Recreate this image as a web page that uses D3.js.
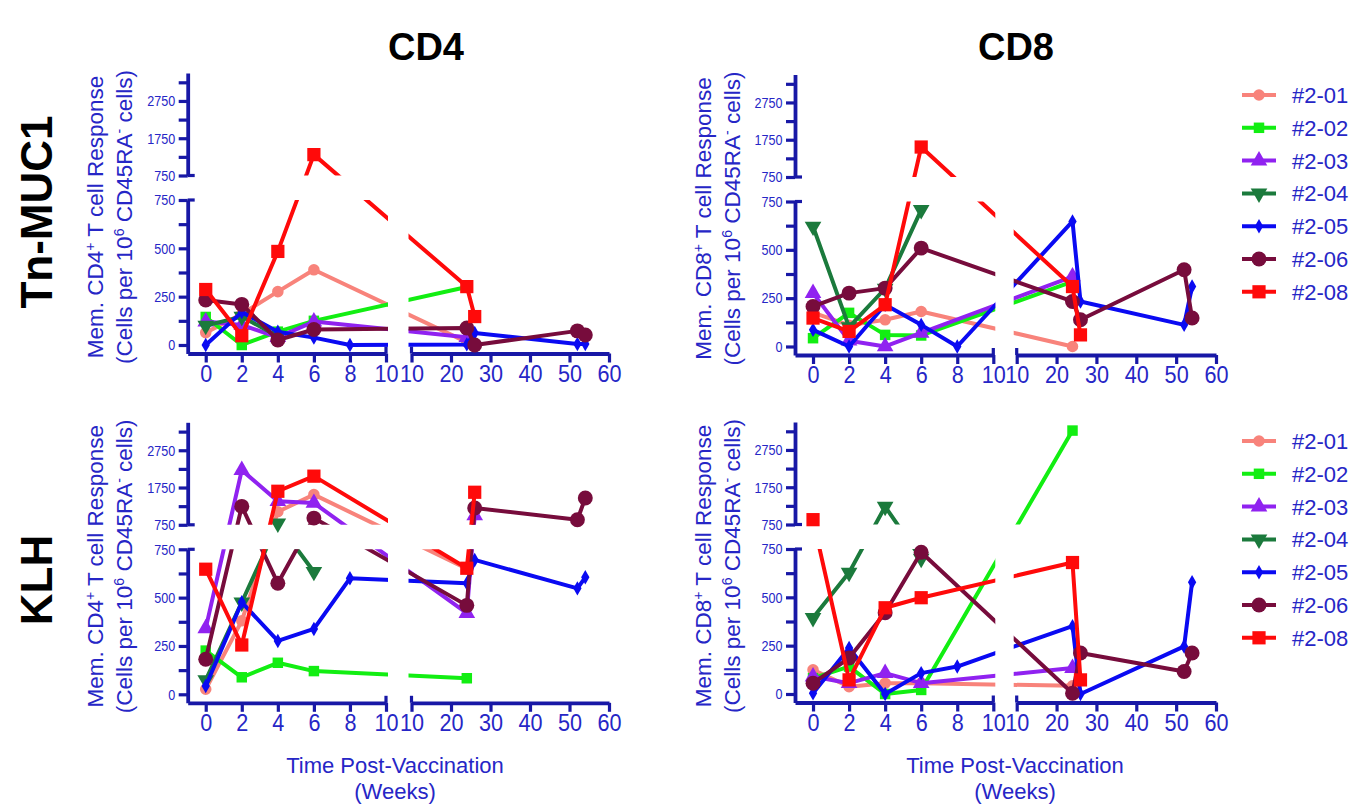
<!DOCTYPE html>
<html><head><meta charset="utf-8">
<script src="https://cdn.jsdelivr.net/npm/d3@7"></script>
<style>body{margin:0;background:#fff}svg{display:block}</style>
</head><body>
<svg id="c" width="1369" height="808"></svg>
<script>
// ---------- data ----------
const subjects = ["#2-01","#2-02","#2-03","#2-04","#2-05","#2-06","#2-08"];
const colors   = ["#f8837b","#12ee12","#9022f0","#1b7a3c","#0a0af2","#770c3c","#ff0a0a"];
const symbols  = ["circle","square","triangle","triangleDown","diamond","circle","square"];
const symSizes = [105,110,120,120,60,175,175];

const leftTicks  = [0,2,4,6,8,10];
const rightTicks = [10,20,30,40,50,60];
const lowTicks   = [0,250,500,750];
const lowMinor   = [125,375,625];
const highTicks  = [750,1750,2750];
const highMinor  = [1250,2250,3250];

// [week, cells] per subject, order as `subjects`
const tnCD4 = [
  [[0,64],[2,160],[4,276],[6,389],[24,15]],
  [[0,145],[2,0],[4,69],[6,125],[24,300]],
  [[0,121],[2,104],[4,40],[6,121],[24,40]],
  [[0,100],[2,147],[4,45]],
  [[0,0],[2,170],[4,69],[6,38],[8,0],[24,3],[26,62],[52,5],[54,5]],
  [[0,233],[2,210],[4,26],[6,80],[24,88],[26,0],[52,73],[54,52]],
  [[0,287],[2,48],[4,484],[6,1310],[24,302],[26,147]]
];
const tnCD8 = [
  [[0,175],[2,110],[4,138],[6,181],[24,0]],
  [[0,43],[2,174],[4,60],[6,57],[24,335]],
  [[0,276],[2,30],[4,0],[6,70],[24,362]],
  [[0,621],[2,100],[4,300],[6,707]],
  [[0,86],[2,0],[4,216],[6,112],[8,0],[24,647],[26,233],[52,112],[54,310]],
  [[0,207],[2,276],[4,302],[6,509],[24,233],[26,138],[52,397],[54,147]],
  [[0,147],[2,78],[4,216],[6,1554],[24,310],[26,60]]
];
const klhCD4 = [
  [[0,26],[2,380],[4,1100],[6,1560],[24,650]],
  [[0,226],[2,88],[4,163],[6,120],[24,83]],
  [[0,341],[2,2217],[4,1380],[6,1335],[24,420],[26,1000]],
  [[0,74],[2,476],[4,790],[6,634]],
  [[0,43],[2,476],[4,276],[6,338],[8,600],[24,574],[26,695],[52,548],[54,605]],
  [[0,181],[2,1245],[4,574],[6,930],[24,460],[26,1200],[52,885],[54,1470]],
  [[0,647],[2,255],[4,1650],[6,2055],[24,652],[26,1623]]
];
const klhCD8 = [
  [[0,125],[2,38],[4,56],[6,56],[24,42]],
  [[0,82],[2,142],[4,0],[6,21],[24,3270]],
  [[0,90],[2,56],[4,108],[6,56],[24,134]],
  [[0,394],[2,628],[4,1230],[6,700]],
  [[0,4],[2,238],[4,0],[6,108],[8,142],[24,351],[26,0],[52,246],[54,578]],
  [[0,56],[2,186],[4,420],[6,733],[24,4],[26,212],[52,116],[54,212]],
  [[0,880],[2,73],[4,446],[6,498],[24,680],[26,73]]
];

// ---------- style ----------
const AX = "#1818a6", TX = "#2626c6";
const FONT = "'Liberation Sans', Arial, sans-serif";
const LW = 4;
const svg = d3.select("#c");

const panels = [
  {data: tnCD4,  X0:187.7, Y0:345,   rs:223.8, re:421.3, cd:"4"},
  {data: tnCD8,  X0:795,   Y0:346.5, rs:221.7, re:421,   cd:"8"},
  {data: klhCD4, X0:187.7, Y0:694.3, rs:223.8, re:421.3, cd:"4"},
  {data: klhCD8, X0:795,   Y0:694,   rs:221.7, re:421,   cd:"8"}
];

function symPath(k, size){
  const t = symbols[k];
  if (t==="circle") return d3.symbol(d3.symbolCircle, size)();
  if (t==="square") return d3.symbol(d3.symbolSquare, size)();
  if (t==="diamond") return d3.symbol(d3.symbolDiamond, size)();
  return d3.symbol(d3.symbolTriangle, size)();
}
function symTransform(k, x, y){
  return `translate(${x},${y})` + (symbols[k]==="triangleDown" ? " rotate(180)" : "");
}

function styleAxis(g){
  g.selectAll("path.domain").attr("stroke", AX).attr("stroke-width", 3.8);
  g.selectAll(".tick line").attr("stroke", AX).attr("stroke-width", 3.2);
}

panels.forEach((p, pi) => {
  const X0 = p.X0, Y0 = p.Y0, axisY = Y0 + 8.5;
  const xL = d3.scaleLinear([-1,10], [X0, X0+198.3]);
  const xR = d3.scaleLinear([10,60], [X0+p.rs, X0+p.re]);
  const yL = d3.scaleLinear([-44,750], [axisY, Y0-145]);
  const yH = d3.scaleLinear([750,3500], [Y0-169.5, Y0-272]);
  const px = w => w <= 10 ? xL(w) : xR(w);
  const py = v => v <= 750 ? yL(v) : yH(v);

  const g = svg.append("g");

  // x axes
  const gxL = g.append("g").attr("transform", `translate(0,${axisY})`)
    .call(d3.axisBottom(xL).tickValues(leftTicks).tickSize(9).tickSizeOuter(0));
  const gxR = g.append("g").attr("transform", `translate(0,${axisY})`)
    .call(d3.axisBottom(xR).tickValues(rightTicks).tickSize(9).tickSizeOuter(0));
  [gxL, gxR].forEach(a => {
    styleAxis(a);
    a.selectAll(".tick text").attr("fill", TX).attr("font-family", FONT)
      .attr("font-size", 24).attr("y", 11).attr("transform", "scale(0.9,1)");
  });
  // y axes
  const gyL = g.append("g").attr("transform", `translate(${X0},0)`)
    .call(d3.axisLeft(yL).tickValues(lowTicks.concat(lowMinor)).tickSize(9).tickSizeOuter(0)
      .tickFormat(d => lowTicks.includes(d) ? d : ""));
  const gyH = g.append("g").attr("transform", `translate(${X0},0)`)
    .call(d3.axisLeft(yH).tickValues(highTicks.concat(highMinor)).tickSize(9).tickSizeOuter(0)
      .tickFormat(d => highTicks.includes(d) ? d : ""));
  [gyL, gyH].forEach(a => {
    styleAxis(a);
    a.selectAll(".tick text").attr("fill", TX).attr("font-family", FONT)
      .attr("font-size", 15).attr("x", -12.5/0.84).attr("transform", "scale(0.84,1)");
  });
  // break caps
  const cap = (x1,y1,x2,y2) => g.append("line").attr("x1",x1).attr("y1",y1).attr("x2",x2).attr("y2",y2)
      .attr("stroke", AX).attr("stroke-width", 3.2);
  cap(X0, yL(750), X0+7, yL(750));
  cap(X0, yH(750), X0+7, yH(750));
  cap(xL(10), axisY-7, xL(10), axisY);
  cap(xR(10), axisY-7, xR(10), axisY);

  // clip regions (4 plot areas)
  const cid = "clip" + pi;
  const cp = svg.append("clipPath").attr("id", cid);
  const xs = [[X0, X0+200.3], [X0+p.rs-3, X0+p.re+25]];
  const ys = [[Y0-145, Y0+20], [Y0-300, Y0-169.5]];
  xs.forEach(xx => ys.forEach(yy => cp.append("rect")
      .attr("x", xx[0]).attr("y", yy[0]).attr("width", xx[1]-xx[0]).attr("height", yy[1]-yy[0])));

  const line = d3.line().x(d => px(d[0])).y(d => py(d[1]));
  p.data.forEach((ser, k) => {
    g.append("path").attr("d", line(ser)).attr("fill","none")
      .attr("stroke", colors[k]).attr("stroke-width", LW)
      .attr("stroke-linejoin","round").attr("clip-path", `url(#${cid})`);
    g.selectAll(null).data(ser).enter().append("path")
      .attr("d", symPath(k, symSizes[k]))
      .attr("transform", d => symTransform(k, px(d[0]), py(d[1])))
      .attr("fill", colors[k]);
  });

  // y axis title
  const cx = X0 - (pi%2===0 ? 84.7 : 84), cy = Y0 - 128;
  const t1 = svg.append("text").attr("transform", `translate(${cx},${cy}) rotate(-90)`)
    .attr("text-anchor","middle").attr("fill", TX).attr("font-family", FONT).attr("font-size", 22.5);
  t1.append("tspan").text("Mem. CD" + p.cd);
  t1.append("tspan").text("+").attr("font-size", 14).attr("dy", -8);
  t1.append("tspan").text(" T cell Response").attr("dy", 8);
  const t2 = svg.append("text").attr("transform", `translate(${cx+29},${cy}) rotate(-90)`)
    .attr("text-anchor","middle").attr("fill", TX).attr("font-family", FONT).attr("font-size", 22.5);
  t2.append("tspan").text("(Cells per 10");
  t2.append("tspan").text("6").attr("font-size", 14).attr("dy", -8);
  t2.append("tspan").text(" CD45RA").attr("dy", 8);
  t2.append("tspan").text("-").attr("font-size", 14).attr("dy", -8);
  t2.append("tspan").text(" cells)").attr("dy", 8);
});

// column titles
[["CD4", 426], ["CD8", 1016]].forEach(([t, x]) => {
  svg.append("text").attr("x", x).attr("y", 60).attr("text-anchor","middle")
    .attr("font-family", FONT).attr("font-weight","bold").attr("font-size", 38).text(t);
});
// row titles
[["Tn-MUC1", 212], ["KLH", 580]].forEach(([t, y]) => {
  svg.append("text").attr("transform", `translate(52,${y}) rotate(-90)`).attr("text-anchor","middle")
    .attr("font-family", FONT).attr("font-weight","bold").attr("font-size", 44).text(t);
});
// x axis titles
[395, 1015].forEach(x => {
  svg.append("text").attr("x", x).attr("y", 773).attr("text-anchor","middle")
    .attr("fill", TX).attr("font-family", FONT).attr("font-size", 22).text("Time Post-Vaccination");
  svg.append("text").attr("x", x).attr("y", 799).attr("text-anchor","middle")
    .attr("fill", TX).attr("font-family", FONT).attr("font-size", 22).text("(Weeks)");
});

// legends
[95, 441].forEach(y0 => {
  subjects.forEach((s, k) => {
    const y = y0 + k*32.8;
    svg.append("line").attr("x1",1242).attr("x2",1276).attr("y1",y).attr("y2",y)
      .attr("stroke", colors[k]).attr("stroke-width", LW);
    svg.append("path").attr("d", symPath(k, symSizes[k])).attr("transform", symTransform(k, 1259, y))
      .attr("fill", colors[k]);
    svg.append("text").attr("x", 1292).attr("y", y).attr("dy", "0.36em")
      .attr("fill", TX).attr("font-family", FONT).attr("font-size", 22).text(s);
  });
});
</script>
</body></html>
